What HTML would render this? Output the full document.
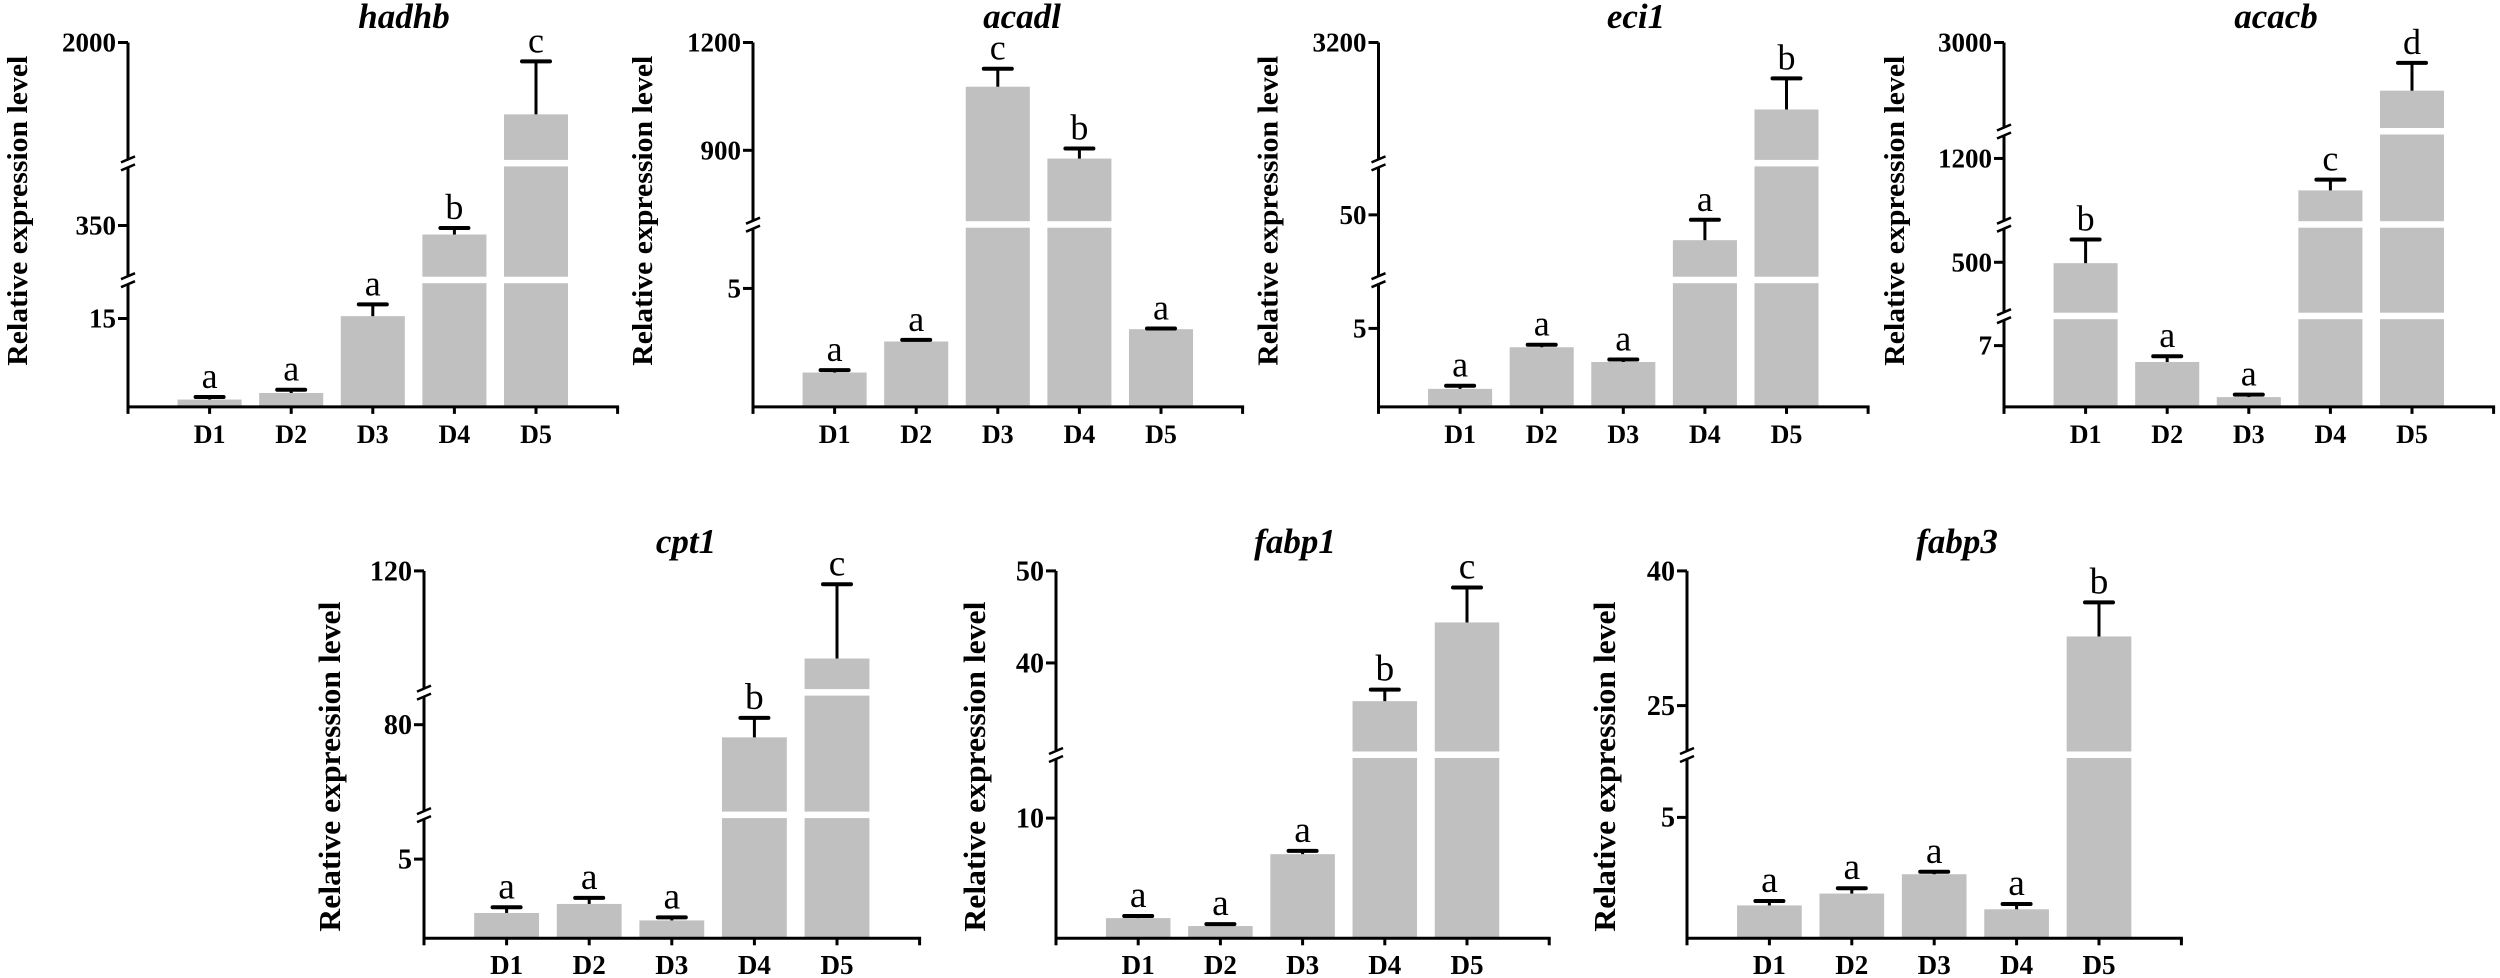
<!DOCTYPE html>
<html><head><meta charset="utf-8"><title>Relative expression levels of lipid metabolism genes</title>
<style>
html,body{margin:0;padding:0;background:#fff;overflow:hidden;}
svg{display:block;font-family:"Liberation Serif","DejaVu Serif",serif;}
</style></head>
<body>
<svg id="fig" width="2500" height="978" viewBox="0 0 2500 978" xmlns="http://www.w3.org/2000/svg"></svg>
<script>
// ---- shared categories ----
const categories = ["D1","D2","D3","D4","D5"];
// ---- data (mean, error, significance letters, tick values) ----
const hadhbMean = [1.25, 2.36, 15.4, 317, 1168];
const hadhbErr  = [0.42, 0.56, 2.0, 24, 614];
const hadhbSig  = ["a","a","a","b","c"];
const hadhbTicks = [15, 350, 2000];

const acadlMean = [1.45, 2.76, 1077, 877, 3.28];
const acadlErr  = [0.10, 0.07, 50, 28, 0.03];
const acadlSig  = ["a","a","c","b","a"];
const acadlTicks = [5, 900, 1200];

const eci1Mean = [1.15, 3.8, 2.86, 34.5, 1483];
const eci1Err  = [0.2, 0.16, 0.16, 12.5, 796];
const eci1Sig  = ["a","a","a","a","b"];
const eci1Ticks = [5, 50, 3200];

const acacbMean = [495, 5.13, 1.12, 983, 2188];
const acacbErr  = [132, 0.66, 0.28, 73, 468];
const acacbSig  = ["b","a","a","c","d"];
const acacbTicks = [7, 500, 1200, 3000];

const cpt1Mean = [1.60, 2.17, 1.13, 74.4, 105.6];
const cpt1Err  = [0.36, 0.38, 0.19, 8.6, 12.2];
const cpt1Sig  = ["a","a","a","b","c"];
const cpt1Ticks = [5, 80, 120];

const fabp1Mean = [1.68, 1.02, 7.0, 35.85, 44.4];
const fabp1Err  = [0.18, 0.16, 0.27, 1.25, 3.8];
const fabp1Sig  = ["a","a","a","b","c"];
const fabp1Ticks = [10, 40, 50];

const fabp3Mean = [1.36, 1.85, 2.65, 1.20, 32.7];
const fabp3Err  = [0.18, 0.22, 0.10, 0.22, 3.8];
const fabp3Sig  = ["a","a","a","a","b"];
const fabp3Ticks = [5, 25, 40];

// ---- layout / axis configs (segments: [vLo, vHi, pxLo, pxHi]) ----
const charts = [
 {id:"hadhb", mean:hadhbMean, err:hadhbErr, sig:hadhbSig, ticks:hadhbTicks, ax:128, step:81.6, s:1, titleX:404, titleY:28, ytDx:-101, ytLen:310, ytShift:-16, xlY:443,
  segs:[[0,21.5,406.9,280.2],[150,577,280.2,163.4],[600,2000,163.4,42.5]]},
 {id:"acadl", mean:acadlMean, err:acadlErr, sig:acadlSig, ticks:acadlTicks, ax:753, step:81.6, s:1, titleX:1022, titleY:28, ytDx:-101, ytLen:310, ytShift:-16, xlY:443,
  segs:[[0,7.69,406.9,224.7],[693,1200,224.7,42.5]]},
 {id:"eci1", mean:eci1Mean, err:eci1Err, sig:eci1Sig, ticks:eci1Ticks, ax:1378.5, step:81.6, s:1, titleX:1636, titleY:28, ytDx:-101, ytLen:310, ytShift:-16, xlY:443,
  segs:[[0,8.07,406.9,280.2],[10,81.5,280.2,163.4],[100,3200,163.4,42.5]]},
 {id:"acacb", mean:acacbMean, err:acacbErr, sig:acacbSig, ticks:acacbTicks, ax:2004, step:81.6, s:1, titleX:2276, titleY:28, ytDx:-100, ytLen:310, ytShift:-16, xlY:443,
  segs:[[0,10.36,406.9,316.2],[200,709,316.2,224.7],[750,1383,224.7,131.5],[1500,3000,131.5,42.5]]},
 {id:"cpt1", mean:cpt1Mean, err:cpt1Err, sig:cpt1Sig, ticks:cpt1Ticks, ax:424, step:82.6, s:1.04, titleX:686, titleY:553, ytDx:-84, ytLen:330, ytShift:10, xlY:974,
  segs:[[0,7.78,938.3,815.1],[40,94.2,815.1,692.6],[100,120,692.6,570.9]]},
 {id:"fabp1", mean:fabp1Mean, err:fabp1Err, sig:fabp1Sig, ticks:fabp1Ticks, ax:1056, step:82.2, s:1.04, titleX:1295, titleY:553, ytDx:-71, ytLen:330, ytShift:10, xlY:974,
  segs:[[0,15.25,938.3,755.0],[30,50,755.0,570.9]]},
 {id:"fabp3", mean:fabp3Mean, err:fabp3Err, sig:fabp3Sig, ticks:fabp3Ticks, ax:1687, step:82.4, s:1.04, titleX:1957, titleY:553, ytDx:-72, ytLen:330, ytShift:10, xlY:974,
  segs:[[0,7.58,938.3,755.0],[19.5,40,755.0,570.9]]}
];

const NS = "http://www.w3.org/2000/svg";
const svg = document.getElementById("fig");
function mk(tag, attrs, parent){
  const e = document.createElementNS(NS, tag);
  for (const k in attrs) e.setAttribute(k, attrs[k]);
  (parent||svg).appendChild(e);
  return e;
}
function yScale(c, v){
  let seg = c.segs[0];
  for (const s of c.segs){ if (v >= s[0]) seg = s; }
  return seg[2] + (v - seg[0]) / (seg[1] - seg[0]) * (seg[3] - seg[2]);
}
function xScale(c, i){ return c.ax + (i + 1) * c.step; }

charts.forEach(c => {
  const g = mk("g", {});
  
  
  const s = c.s;
  const yb = c.segs[0][2];
  const yTop = c.segs[c.segs.length-1][3];
  const xEnd = c.ax + 6 * c.step;
  const breaks = c.segs.slice(0, -1).map(sg => sg[3]);

  // bars
  const bw = c.step * 0.785;
  c.mean.forEach((v, i) => {
    const cx = xScale(c, i), yt = yScale(c, v);
    const r = mk("rect", {x: cx - bw/2, y: yt, width: bw, height: yb - yt, fill: "#c0c0c0"}, g);
    
    
    breaks.forEach(b => {
      if (yt < b - 4) {
        const w = mk("rect", {x: cx - bw/2 - 1, y: b - 3.5, width: bw + 2, height: 6.5, fill: "#fff"}, g);
        
        
      }
    });
    // error bar
    const yc = yScale(c, v + c.err[i]);
    const l1 = mk("line", {x1: cx, y1: yt, x2: cx, y2: yc, stroke: "#000", "stroke-width": 3}, g);
    
    
    const l2 = mk("line", {x1: cx - 14, y1: yc, x2: cx + 14, y2: yc, stroke: "#000", "stroke-width": 4, "stroke-linecap": "round"}, g);
    
    
    // significance letter
    const t = mk("text", {x: cx, y: yc - 9, "font-size": 36 * s, "text-anchor": "middle"}, g);
    t.textContent = c.sig[i];
    
    
  });

  // y axis with breaks
  const pts = [yb].concat(breaks).concat([yTop]);
  for (let k = 0; k < pts.length - 1; k++) {
    const a = (k === 0) ? pts[k] + 1.5 : pts[k] - 4;
    const b = (k === pts.length - 2) ? pts[k+1] : pts[k+1] + 4;
    const ln = mk("line", {x1: c.ax, y1: a, x2: c.ax, y2: b, stroke: "#000", "stroke-width": 3}, g);
    
    
  }
  breaks.forEach(b => {
    const p = mk("path", {d: `M${c.ax-7},${b-1} L${c.ax+7},${b-7} M${c.ax-7},${b+7} L${c.ax+7},${b+1}`, stroke: "#000", "stroke-width": 2.5, fill: "none"}, g);
    
    
  });
  // y ticks
  const fsT = 27 * s;
  c.ticks.forEach(v => {
    const y = yScale(c, v);
    const tk = mk("line", {x1: c.ax - 10, y1: y, x2: c.ax, y2: y, stroke: "#000", "stroke-width": 3}, g);
    
    
    const tl = mk("text", {x: c.ax - 12, y: y + 9 * s, "font-size": fsT, "font-weight": "bold", "text-anchor": "end"}, g);
    tl.textContent = String(v);
    
    
  });
  // x axis
  const xa = mk("line", {x1: c.ax - 1.5, y1: yb, x2: xEnd + 1.5, y2: yb, stroke: "#000", "stroke-width": 3}, g);
  
  
  for (let i = 0; i <= 6; i++) {
    const x = c.ax + i * c.step;
    const xt = mk("line", {x1: x, y1: yb, x2: x, y2: yb + 7, stroke: "#000", "stroke-width": 3}, g);
    
    
  }
  categories.forEach((cat, i) => {
    const xl = mk("text", {x: xScale(c, i), y: c.xlY, "font-size": 26 * s, "font-weight": "bold", "text-anchor": "middle"}, g);
    xl.textContent = cat;
    
    
  });
  // y axis title
  const midY = (yb + yTop) / 2 + 2 + c.ytShift;
  const tx = c.ax + c.ytDx;
  const yt = mk("text", {x: tx, y: midY, "font-size": 29 * s, "font-weight": "bold", "text-anchor": "middle", transform: `rotate(-90 ${tx} ${midY})`, textLength: c.ytLen, lengthAdjust: "spacingAndGlyphs"}, g);
  yt.textContent = "Relative expression level";
  
  
  // chart title
  const ti = mk("text", {x: c.titleX, y: c.titleY, "font-size": 35, "font-weight": "bold", "font-style": "italic", "text-anchor": "middle"}, g);
  ti.textContent = c.id;
  
  
});
</script>
</body></html>
